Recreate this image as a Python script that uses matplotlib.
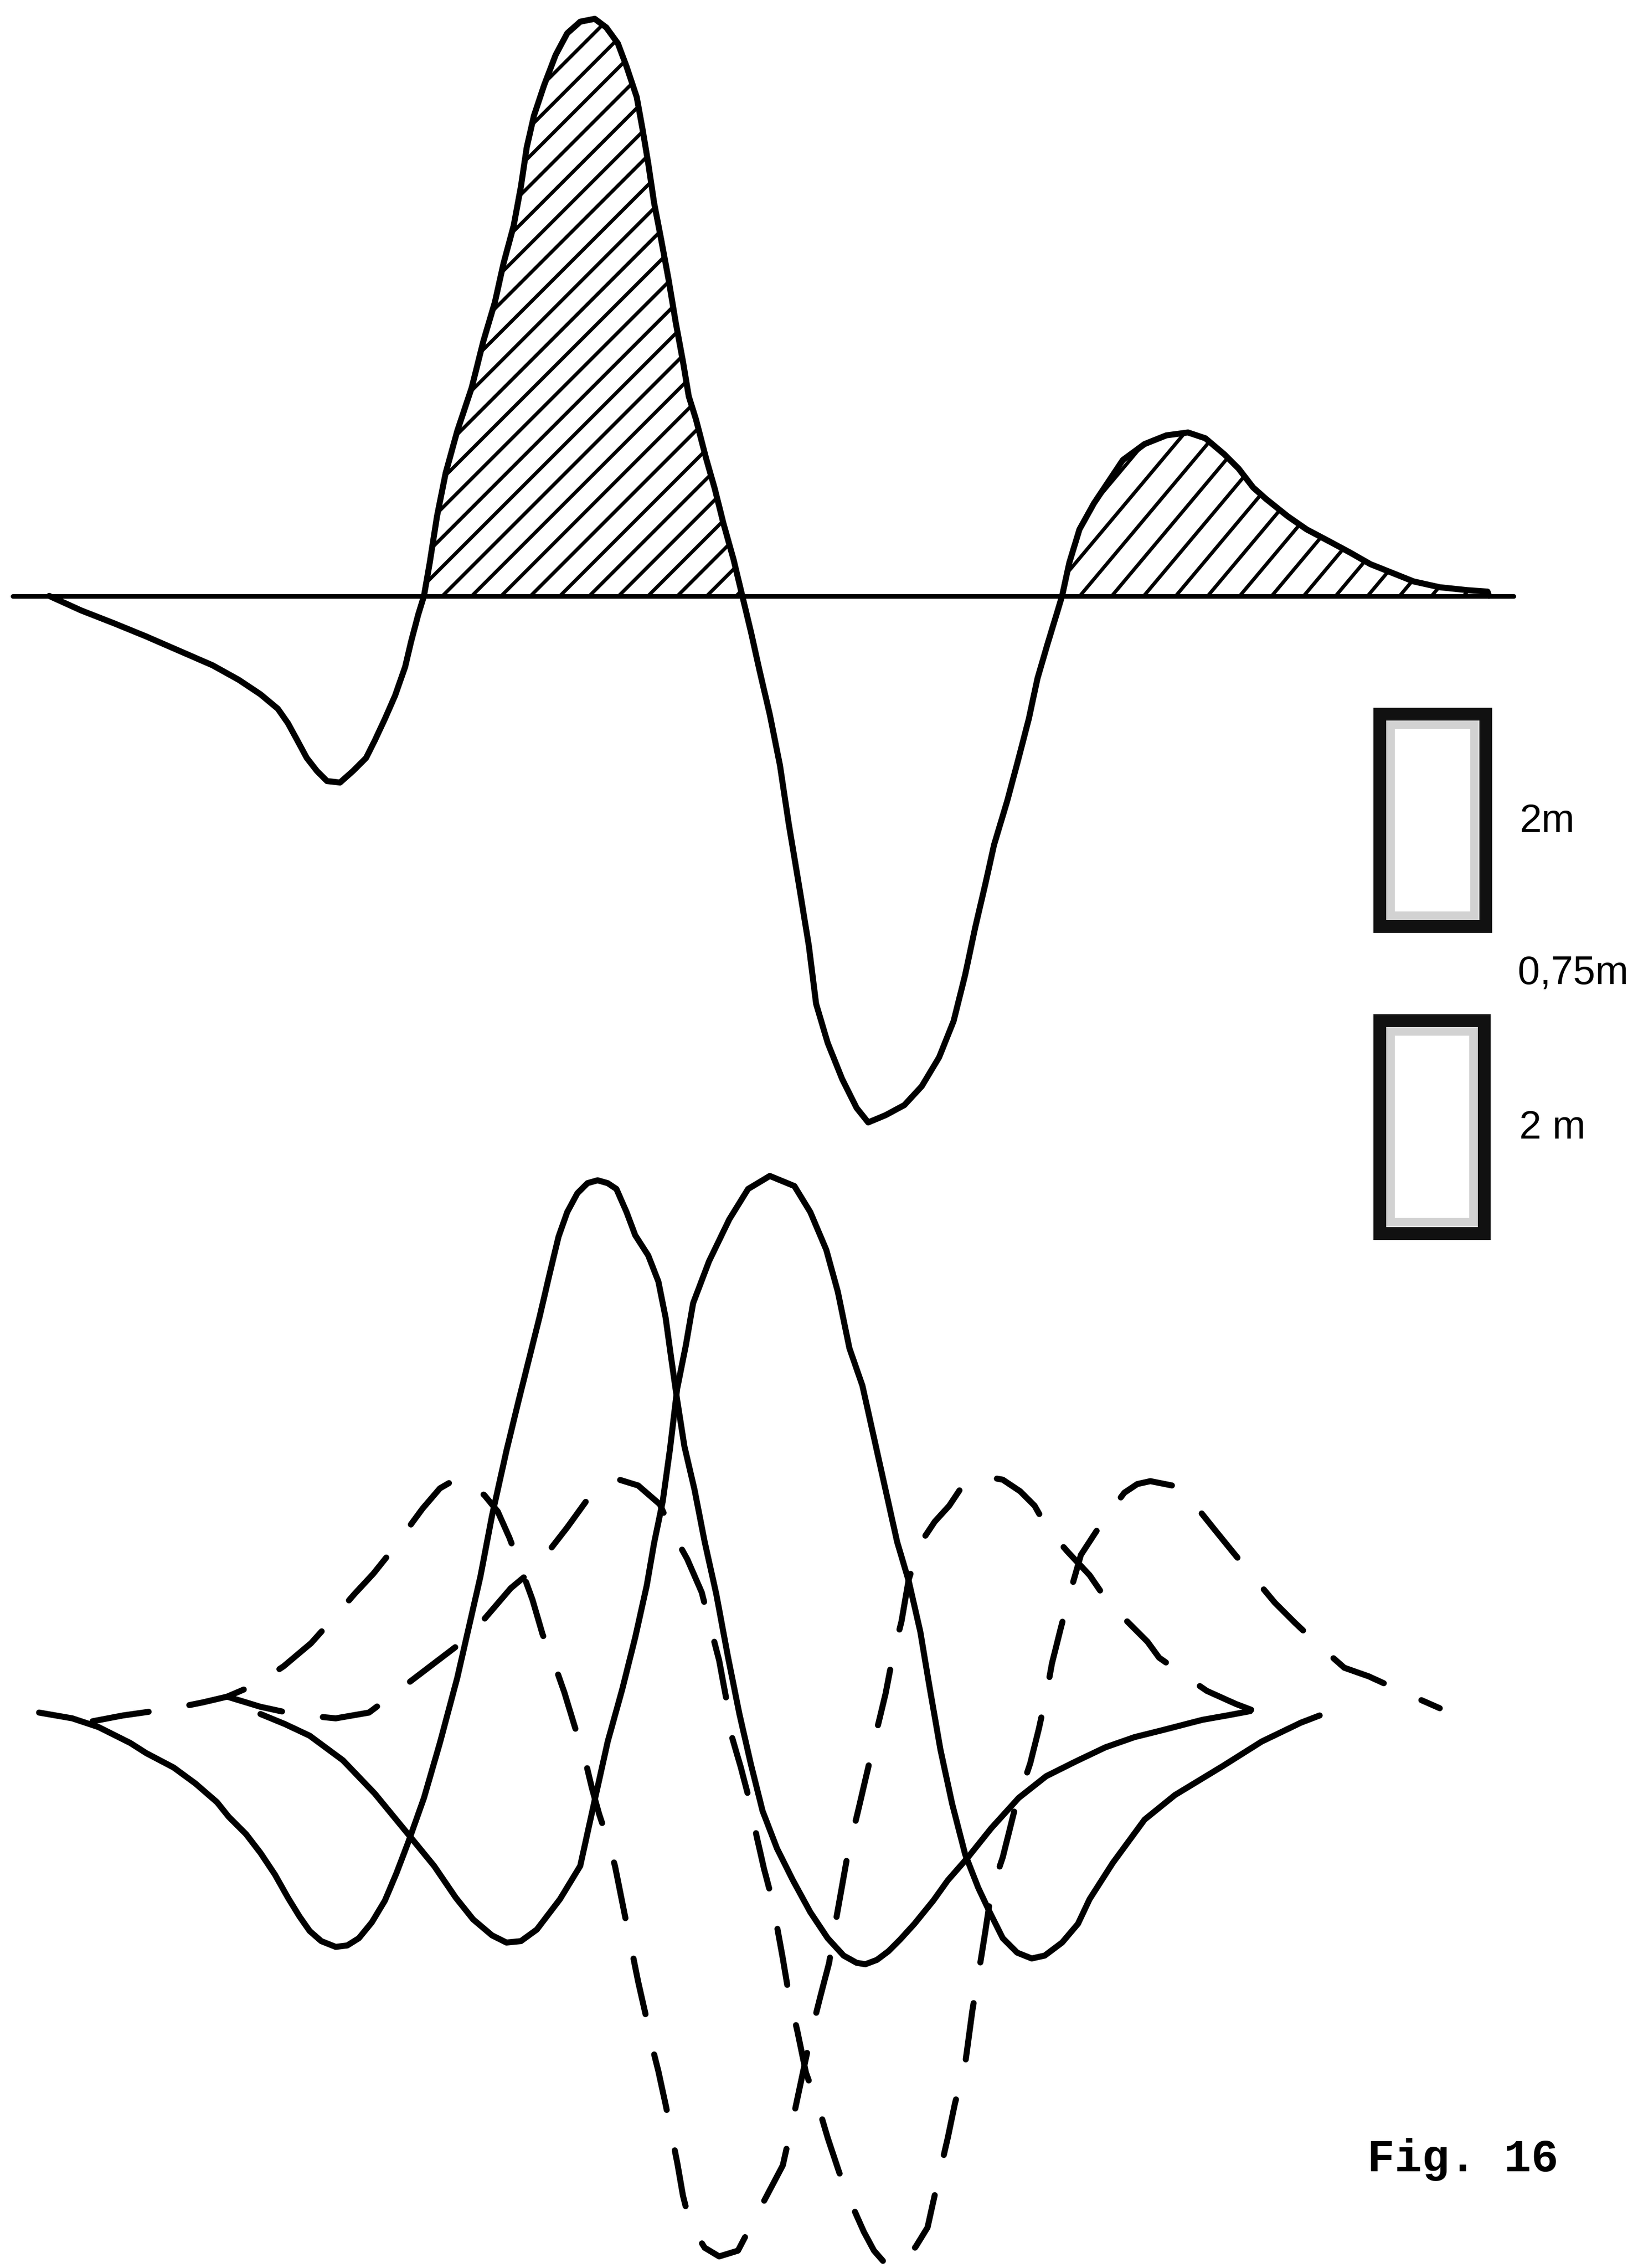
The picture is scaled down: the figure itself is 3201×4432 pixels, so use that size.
import numpy as np
import matplotlib
matplotlib.use("Agg")
import matplotlib.pyplot as plt
from matplotlib.patches import Rectangle, PathPatch

plt.rcParams['lines.scale_dashes'] = False

# all values, in its own frame (x right, y down)
top_base = 412
top_x = [34, 45, 56, 79, 101, 124, 147, 165, 180, 192, 199, 205, 212, 219, 226, 235,
         244, 253, 259, 266, 273, 280, 284, 289, 293,
         297, 302, 308, 316, 326, 334, 342, 348, 355, 360, 364, 369, 376, 384, 392,
         401, 411, 419, 427, 433, 440, 444, 448, 452, 457, 462, 467, 472, 476, 481,
         488, 494, 500, 507, 513,
         519, 525, 532, 539, 545, 552, 559, 564, 572, 582, 592, 600, 612, 625, 637,
         649, 659, 667, 674, 681, 687, 696, 704, 711, 717, 724, 731, 734,
         739, 746, 756, 766, 776, 791, 806, 821, 833, 846, 856, 866, 875, 890, 903,
         920, 933, 947, 962, 977, 995, 1014, 1028, 1029]
top_y = [412, 417, 422, 431, 440, 450, 460, 470, 480, 490, 500, 511, 524, 533, 540, 541,
         533, 524, 512, 497, 481, 461, 444, 425, 412,
         389, 357, 327, 298, 268, 236, 209, 182, 156, 129, 102, 80, 59, 38, 23,
         15, 13, 19, 30, 46, 67, 89, 113, 140, 166, 193, 223, 250, 274, 290,
         317, 338, 362, 387, 412,
         437, 464, 494, 529, 569, 611, 654, 694, 721, 746, 766, 776, 771, 764, 751,
         731, 706, 674, 641, 611, 584, 554, 524, 497, 469, 445, 422, 412,
         389, 366, 348, 333, 318, 307, 301, 299, 303, 314, 324, 337, 345, 357, 366,
         375, 382, 390, 396, 402, 406, 408, 409, 412]
base_ends = [9, 1046]

solid_a_x = [27, 50, 68, 90, 101, 120, 135, 150, 158, 170, 180, 190, 199, 207, 214, 222,
             232, 240, 248, 257, 266, 274, 282, 293, 304, 316, 324, 332, 340, 350, 358,
             366, 373, 380, 386, 392, 399, 406, 413, 420, 426, 433, 439, 448, 455, 460,
             464, 468, 473, 480, 487, 495, 503, 511, 519, 527, 537, 548, 560, 572, 583,
             592, 598, 606, 614, 622, 632, 645, 655, 669, 685, 704, 723, 743, 764, 784,
             804, 831, 848, 864]
solid_a_y = [1184, 1188, 1194, 1205, 1212, 1222, 1233, 1246, 1256, 1268, 1281, 1296, 1312,
             1325, 1335, 1342, 1346, 1345, 1340, 1329, 1314, 1295, 1274, 1243, 1205, 1160,
             1125, 1090, 1048, 1003, 970, 938, 910, 880, 855, 838, 825, 818, 816, 818, 822,
             838, 854, 868, 886, 911, 940, 968, 1000, 1030, 1066, 1102, 1145, 1185, 1220,
             1252, 1278, 1300, 1322, 1340, 1352, 1357, 1358, 1355, 1349, 1341, 1330, 1314,
             1300, 1284, 1264, 1243, 1228, 1218, 1208, 1201, 1196, 1189, 1186, 1183]

solid_b_x = [180, 197, 214, 237, 259, 282, 300, 315, 327, 340, 350, 360, 371, 387, 401,
             412, 420, 430, 439, 447, 452, 458, 463, 468, 474, 479, 490, 504, 517, 532,
             549, 560, 571, 579, 587, 596, 604, 612, 620, 628, 636, 642, 650, 658, 667,
             676, 684, 693, 703, 713, 722, 734, 745, 753, 769, 791, 812, 845, 872, 899, 912]
solid_b_y = [1185, 1192, 1200, 1217, 1240, 1268, 1290, 1312, 1327, 1338, 1343, 1342, 1334,
             1313, 1290, 1240, 1204, 1168, 1132, 1096, 1067, 1038, 1002, 960, 930, 901,
             872, 843, 822, 813, 820, 838, 864, 893, 932, 958, 994, 1030, 1066, 1093, 1128,
             1164, 1210, 1247, 1282, 1305, 1322, 1340, 1350, 1354, 1352, 1343, 1330, 1313,
             1288, 1258, 1241, 1221, 1204, 1191, 1186]

dash_c_x = [64, 85, 99, 120, 140, 157, 178, 196, 215, 232, 245, 258, 270, 281, 292, 304,
            316, 325, 335, 344, 352, 360, 368, 375, 383, 390, 397, 404, 409, 414, 420, 425,
            429, 433, 437, 441, 446, 450, 455, 460, 464, 468, 472, 477, 487, 497, 510, 521,
            531, 541, 547, 554, 561, 567, 573, 578, 586, 593, 600, 605, 612, 617, 623, 628,
            636, 646, 656, 664, 673, 682, 693, 705, 715, 724, 738, 753, 766, 780, 793, 801,
            818, 834, 854, 875]
dash_c_y = [1190, 1186, 1184, 1181, 1177, 1173, 1164, 1152, 1136, 1117, 1102, 1088, 1073,
            1058, 1043, 1029, 1022, 1025, 1034, 1045, 1063, 1084, 1106, 1130, 1150, 1170,
            1193, 1215, 1236, 1254, 1272, 1290, 1310, 1330, 1350, 1370, 1392, 1412, 1432,
            1455, 1475, 1495, 1518, 1538, 1554, 1560, 1556, 1535, 1516, 1497, 1470, 1437,
            1404, 1380, 1357, 1326, 1281, 1252, 1222, 1200, 1171, 1145, 1121, 1092, 1067,
            1052, 1041, 1029, 1024, 1021, 1023, 1031, 1041, 1057, 1073, 1089, 1108, 1122,
            1135, 1146, 1158, 1169, 1178, 1186]

dash_d_x = [157, 180, 203, 212, 232, 255, 275, 296, 317, 335, 353, 371, 378, 392, 405, 414,
            428, 441, 456, 464, 475, 485, 490, 497, 502, 505, 512, 518, 523, 528, 533, 537,
            541, 545, 551, 557, 567, 572, 580, 589, 597, 604, 611, 617, 624, 633, 641, 649,
            655, 660, 667, 672, 677, 681, 685, 693, 701, 712, 718, 723, 727, 733, 739, 747,
            762, 777, 786, 795, 810, 823, 839, 852, 866, 881, 895, 912, 929, 946, 970, 995]
dash_d_y = [1173, 1180, 1185, 1186, 1188, 1184, 1169, 1153, 1137, 1119, 1098, 1083, 1074,
            1056, 1038, 1031, 1023, 1027, 1040, 1058, 1078, 1101, 1121, 1148, 1175, 1198,
            1222, 1245, 1270, 1292, 1311, 1332, 1354, 1378, 1404, 1433, 1461, 1478, 1502,
            1525, 1543, 1556, 1564, 1566, 1565, 1553, 1540, 1504, 1478, 1454, 1427, 1390,
            1360, 1335, 1308, 1284, 1252, 1219, 1195, 1172, 1150, 1126, 1103, 1075, 1052,
            1032, 1026, 1024, 1027, 1037, 1057, 1073, 1090, 1108, 1122, 1138, 1153, 1159,
            1170, 1181]

# scale bars: (left, top, right, bottom)
bars = [(949, 489, 1031, 645), (949, 701, 1030, 857)]
bar_labels = ["2m", "0,75m", "2 m"]
bar_label_pos = [(1050, 568), (1049, 673), (1050, 780)]
fig_label = "Fig. 16"

fig = plt.figure(figsize=(32.01, 44.32), dpi=100)
ax = fig.add_axes([0, 0, 1, 1])
ax.set_xlim(0, 1132)
ax.set_ylim(1568, 0)
ax.axis('off')

ink = '#000000'

# upper trace with baseline
ax.plot(base_ends, [top_base, top_base], color=ink, lw=6.5, solid_capstyle='round')
ax.plot(top_x, top_y, color=ink, lw=8.5, solid_joinstyle='round', solid_capstyle='round')

tx = np.array(top_x, dtype=float)
ty = np.array(top_y, dtype=float)
lobes = ax.fill_between(tx, ty, top_base, where=ty <= top_base, facecolor='none',
                        edgecolor='none')
hatch_style = [(45, 20.3, 305.8), (50, 22.1, 746.3)]  # angle, step, phase
paths = [p for p in lobes.get_paths() if np.ptp(p.vertices[:, 0]) > 50]
paths.sort(key=lambda p: p.vertices[:, 0].min())
for path, (ang, step, phase) in zip(paths, hatch_style):
    clip = PathPatch(path, facecolor='none', edgecolor='none', transform=ax.transData)
    ax.add_patch(clip)
    x0, x1 = path.vertices[:, 0].min(), path.vertices[:, 0].max()
    h = top_base - path.vertices[:, 1].min() + 20
    run = h / np.tan(np.radians(ang))
    k0 = np.floor((x0 - run - phase) / step)
    k1 = np.ceil((x1 - phase) / step)
    for k in np.arange(k0, k1 + 1):
        xb = phase + k * step
        ln, = ax.plot([xb, xb + run], [top_base, top_base - h], color=ink, lw=5)
        ln.set_clip_path(clip)

# lower traces
for sx, sy in [(solid_a_x, solid_a_y), (solid_b_x, solid_b_y)]:
    ax.plot(sx, sy, color=ink, lw=8.5, solid_joinstyle='round', solid_capstyle='round')
for dx, dy in [(dash_c_x, dash_c_y), (dash_d_x, dash_d_y)]:
    ax.plot(dx, dy, color=ink, lw=8.5, linestyle=(0, (80, 58)), dash_capstyle='round',
            dash_joinstyle='round')

# scale bars
for (l, t, r, b) in bars:
    ax.add_patch(Rectangle((l + 12, t + 12), r - l - 24, b - t - 24, facecolor='white',
                           edgecolor='#d2d2d2', lw=12))
    ax.add_patch(Rectangle((l + 4.5, t + 4.5), r - l - 9, b - t - 9, facecolor='none',
                           edgecolor='#111111', lw=18))
for txt, (x, y) in zip(bar_labels, bar_label_pos):
    ax.text(x, y, txt, fontsize=56, family='Liberation Sans', ha='left', va='center',
            color=ink)

ax.text(945, 1501, fig_label, fontsize=64, family='Liberation Mono', weight='bold',
        ha='left', va='baseline', color=ink)

fig.savefig('out.png', dpi=100, facecolor='white')
